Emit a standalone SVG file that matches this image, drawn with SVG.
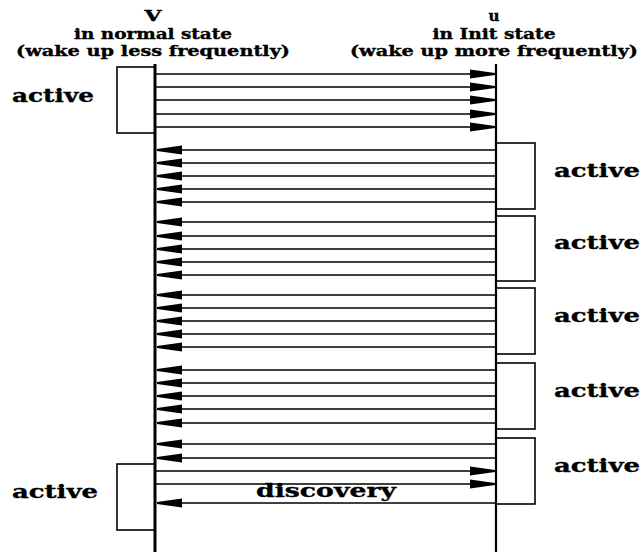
<svg xmlns="http://www.w3.org/2000/svg" width="642" height="552" viewBox="0 0 642 552">
<style>
text{font-family:"DejaVu Serif","Liberation Serif",serif;font-weight:bold;fill:#000;stroke:#000;stroke-width:0.35}
.h{font-size:14px;text-anchor:middle}
.lbl{font-size:19px}
.life{stroke:#000;fill:none}
.box{stroke:#000;stroke-width:1.6;fill:none}
.msg{stroke:#000;stroke-width:1.5;fill:none;marker-end:url(#ah)}
</style>
<defs>
<marker id="ah" markerUnits="userSpaceOnUse" markerWidth="27" markerHeight="11" refX="25" refY="5" orient="auto">
<path d="M0,0.5 L25,4 L25,6 L0,9.5 z" fill="#000"/>
</marker>
</defs>
<rect width="642" height="552" fill="#fff"/>
<g id="node-v">
<text class="h" x="153" y="21" textLength="17" lengthAdjust="spacingAndGlyphs">V</text>
<text class="h" x="153" y="39" textLength="158" lengthAdjust="spacingAndGlyphs">in normal state</text>
<text class="h" x="153" y="56" textLength="274" lengthAdjust="spacingAndGlyphs">(wake up less frequently)</text>
<line class="life" x1="155" y1="64" x2="155" y2="552" stroke-width="3"/>
</g>
<g id="node-u">
<text class="h" x="494" y="21" textLength="11" lengthAdjust="spacingAndGlyphs">u</text>
<text class="h" x="494" y="39" textLength="123" lengthAdjust="spacingAndGlyphs">in Init state</text>
<text class="h" x="494" y="56" textLength="288" lengthAdjust="spacingAndGlyphs">(wake up more frequently)</text>
<line class="life" x1="496" y1="64" x2="496" y2="552" stroke-width="2.2"/>
</g>
<g id="v-active-1">
<rect class="box" x="117" y="67" width="38" height="66"/>
<text class="lbl" x="12" y="102" textLength="82" lengthAdjust="spacingAndGlyphs">active</text>
</g>
<g id="v-active-2">
<rect class="box" x="117" y="464" width="38" height="66"/>
<text class="lbl" x="12" y="498" textLength="86" lengthAdjust="spacingAndGlyphs">active</text>
</g>
<g id="u-active-1">
<rect class="box" x="496" y="143" width="39" height="66"/>
<text class="lbl" x="554" y="177" textLength="86" lengthAdjust="spacingAndGlyphs">active</text>
</g>
<g id="u-active-2">
<rect class="box" x="496" y="216" width="39" height="65"/>
<text class="lbl" x="554" y="249" textLength="86" lengthAdjust="spacingAndGlyphs">active</text>
</g>
<g id="u-active-3">
<rect class="box" x="496" y="288" width="39" height="66"/>
<text class="lbl" x="554" y="322" textLength="86" lengthAdjust="spacingAndGlyphs">active</text>
</g>
<g id="u-active-4">
<rect class="box" x="496" y="363" width="39" height="66"/>
<text class="lbl" x="554" y="397" textLength="86" lengthAdjust="spacingAndGlyphs">active</text>
</g>
<g id="u-active-5">
<rect class="box" x="496" y="438" width="39" height="66"/>
<text class="lbl" x="554" y="472" textLength="86" lengthAdjust="spacingAndGlyphs">active</text>
</g>
<g id="connectors">
<line class="msg" x1="156" y1="74" x2="495" y2="74"/>
<line class="msg" x1="156" y1="87" x2="495" y2="87"/>
<line class="msg" x1="156" y1="100" x2="495" y2="100"/>
<line class="msg" x1="156" y1="114" x2="495" y2="114"/>
<line class="msg" x1="156" y1="127" x2="495" y2="127"/>
<line class="msg" x1="496" y1="150" x2="157" y2="150"/>
<line class="msg" x1="496" y1="163" x2="157" y2="163"/>
<line class="msg" x1="496" y1="176" x2="157" y2="176"/>
<line class="msg" x1="496" y1="189" x2="157" y2="189"/>
<line class="msg" x1="496" y1="202" x2="157" y2="202"/>
<line class="msg" x1="496" y1="222" x2="157" y2="222"/>
<line class="msg" x1="496" y1="236" x2="157" y2="236"/>
<line class="msg" x1="496" y1="249" x2="157" y2="249"/>
<line class="msg" x1="496" y1="262" x2="157" y2="262"/>
<line class="msg" x1="496" y1="275" x2="157" y2="275"/>
<line class="msg" x1="496" y1="295" x2="157" y2="295"/>
<line class="msg" x1="496" y1="308" x2="157" y2="308"/>
<line class="msg" x1="496" y1="321" x2="157" y2="321"/>
<line class="msg" x1="496" y1="334" x2="157" y2="334"/>
<line class="msg" x1="496" y1="347" x2="157" y2="347"/>
<line class="msg" x1="496" y1="370" x2="157" y2="370"/>
<line class="msg" x1="496" y1="383" x2="157" y2="383"/>
<line class="msg" x1="496" y1="396" x2="157" y2="396"/>
<line class="msg" x1="496" y1="409" x2="157" y2="409"/>
<line class="msg" x1="496" y1="423" x2="157" y2="423"/>
<line class="msg" x1="496" y1="444" x2="157" y2="444"/>
<line class="msg" x1="496" y1="458" x2="157" y2="458"/>
<line class="msg" x1="156" y1="471" x2="495" y2="471"/>
<line class="msg" x1="156" y1="484" x2="495" y2="484"/>
<line class="msg" x1="496" y1="503" x2="157" y2="503"/>
<text class="lbl" x="256" y="497" textLength="140" lengthAdjust="spacingAndGlyphs">discovery</text>
</g>
</svg>
